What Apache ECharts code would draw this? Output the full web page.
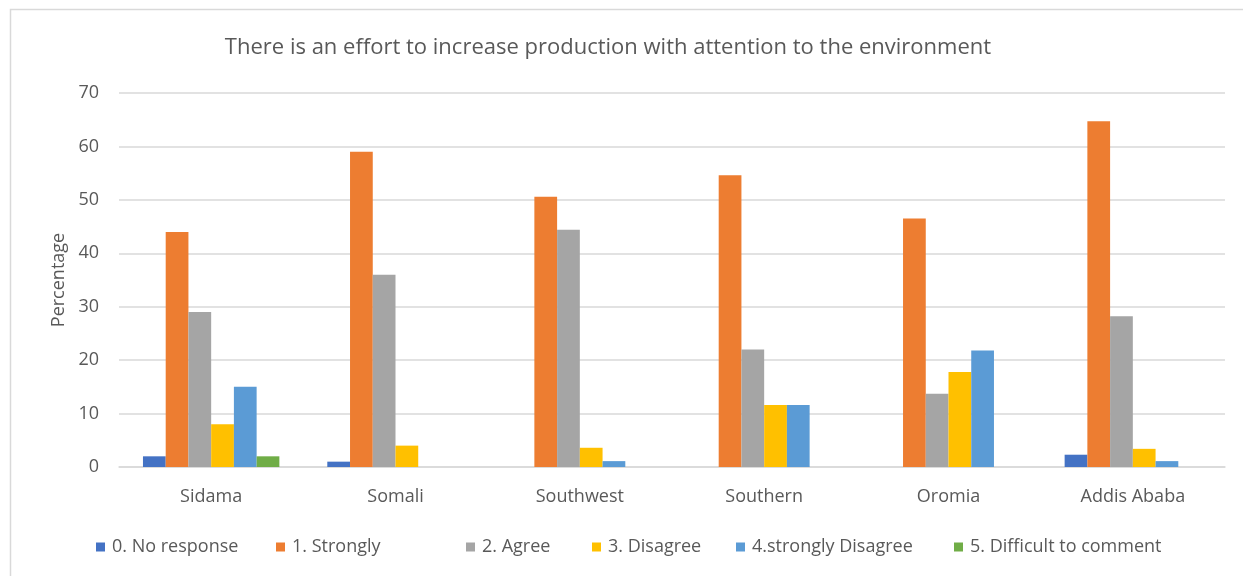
<!DOCTYPE html>
<html>
<head>
<meta charset="utf-8">
<script src="https://cdn.jsdelivr.net/npm/echarts@6/dist/echarts.min.js"></script>
<style>
  html, body { margin: 0; padding: 0; background: #fff; }
  #chart { width: 1243px; height: 576px; }
</style>
</head>
<body>
<div id="chart"></div>
<script>
// Regions surveyed
const regions = ['Sidama', 'Somali', 'Southwest', 'Southern', 'Oromia', 'Addis Ababa'];

// Share of responses (%) per answer, by region
const noResponse       = [2, 1, 0, 0, 0, 2.3];
const stronglyAgree    = [44, 59, 50.6, 54.6, 46.5, 64.7];
const agree            = [29, 36, 44.4, 22, 13.7, 28.2];
const disagree         = [8, 4, 3.6, 11.6, 17.8, 3.4];
const stronglyDisagree = [15, 0, 1.1, 11.6, 21.8, 1.1];
const difficult        = [2, 0, 0, 0, 0, 0];

const seriesNames = ['0. No response', '1. Strongly', '2. Agree', '3. Disagree', '4.strongly Disagree', '5. Difficult to comment'];
const seriesData = [noResponse, stronglyAgree, agree, disagree, stronglyDisagree, difficult];
const colors = ['#4472C4', '#ED7D31', '#A5A5A5', '#FFC000', '#5B9BD5', '#70AD47'];
const yTicks = { min: 0, max: 70, step: 10 };

const FONT = '"Open Sans", "Noto Sans", sans-serif';
const TEXT = '#595959';
const GRIDLINE = '#d9d9d9';

// Legend entries sit at uneven horizontal positions
const legendLeft = [96, 276, 466, 592, 736, 954];

const chart = echarts.init(document.getElementById('chart'), null, { renderer: 'canvas' });

chart.setOption({
  backgroundColor: '#fff',
  color: colors,
  animation: false,
  title: {
    text: 'There is an effort to increase production with attention to the environment',
    left: 608,
    textAlign: 'center',
    top: 37,
    padding: 0,
    textStyle: { fontFamily: FONT, fontSize: 22, fontWeight: 'normal', color: TEXT }
  },
  graphic: [{
    type: 'rect',
    shape: { x: 10.5, y: 9.5, width: 1260, height: 600 },
    style: { fill: 'none', stroke: GRIDLINE, lineWidth: 1.5 },
    silent: true
  }],
  legend: seriesNames.map((name, i) => ({
    data: [name],
    left: legendLeft[i],
    top: 538,
    padding: 0,
    icon: 'rect',
    itemWidth: 9,
    itemHeight: 9,
    itemGap: 0,
    textStyle: { fontFamily: FONT, fontSize: 18, color: TEXT, padding: [0, 0, 0, 2] },
    selectedMode: false
  })),
  grid: { left: 119, right: 18, top: 93, bottom: 109 },
  xAxis: {
    type: 'category',
    data: regions,
    axisLine: { lineStyle: { color: GRIDLINE, width: 1.5 } },
    axisTick: { show: false },
    axisLabel: { fontFamily: FONT, fontSize: 18, color: TEXT, margin: 21 }
  },
  yAxis: {
    type: 'value',
    min: yTicks.min,
    max: yTicks.max,
    interval: yTicks.step,
    name: 'Percentage',
    nameLocation: 'middle',
    nameGap: 50,
    nameTextStyle: { fontFamily: FONT, fontSize: 18, color: TEXT },
    axisLine: { show: false },
    axisTick: { show: false },
    axisLabel: { fontFamily: FONT, fontSize: 18, color: TEXT, margin: 20 },
    splitLine: { lineStyle: { color: GRIDLINE, width: 1.5 } }
  },
  series: seriesNames.map((name, i) => ({
    name: name,
    type: 'bar',
    data: seriesData[i],
    barGap: '0%',
    barCategoryGap: '26%',
    itemStyle: { color: colors[i] }
  }))
});
</script>
</body>
</html>
